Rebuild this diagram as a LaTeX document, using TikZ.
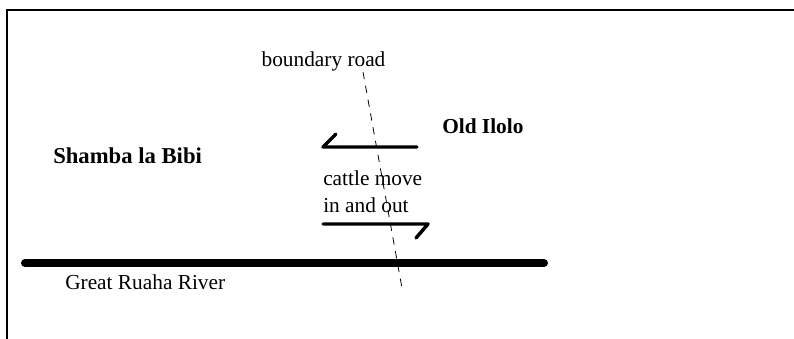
\documentclass[tikz,border=0pt]{standalone}
\usepackage{fontspec}
\setmainfont{Liberation Serif}
\begin{document}
\begin{tikzpicture}[x=0.75pt,y=-0.75pt,
  frameline/.style={line width=1.5pt},
  river/.style={line width=6pt,line cap=round},
  harpoon/.style={line width=2.6pt,line cap=round,line join=round},
  road/.style={line width=0.6pt,dash pattern=on 5.5pt off 5pt},
  plain/.style={inner sep=0pt,font=\fontsize{16}{20.25}\selectfont},
  place/.style={inner sep=0pt,font=\fontsize{16}{20}\selectfont\bfseries}]
  \useasboundingbox (0,0) rectangle (794,339);
  % map frame: top and left edges
  \draw[frameline] (7,339) -- (7,10) -- (794,10);
  % the river
  \coordinate (rw) at (25,263);
  \coordinate (re) at (544,263);
  \draw[river] (rw) -- (re);
  \node[plain,anchor=base west] (rivername) at (65,289) {Great Ruaha River};
  % boundary road
  \coordinate (rn) at (363,72);
  \coordinate (rs) at (402,288);
  \draw[road] (rn) -- (rs);
  \node[plain,anchor=base] (roadname) at (323.5,66) {boundary road};
  % settlements
  \node[place,anchor=base west,font=\fontsize{17}{20}\selectfont\bfseries] (shamba) at (53,163) {Shamba la Bibi};
  \node[place,anchor=base west] (ilolo) at (442,133) {Old Ilolo};
  % cattle movement
  \coordinate (ia) at (417,147);
  \coordinate (ib) at (323,147);
  \coordinate (ic) at (336,134);
  \draw[harpoon] (ia) -- (ib) -- (ic);
  \coordinate (oa) at (323,224);
  \coordinate (ob) at (428,224);
  \coordinate (oc) at (416,238);
  \draw[harpoon] (oa) -- (ob) -- (oc);
  % the base anchor of a two-line node sits on its last line
  \node[plain,anchor=base west,align=left] (cattle) at (323,212) {cattle move\\in and out};
\end{tikzpicture}
\end{document}
